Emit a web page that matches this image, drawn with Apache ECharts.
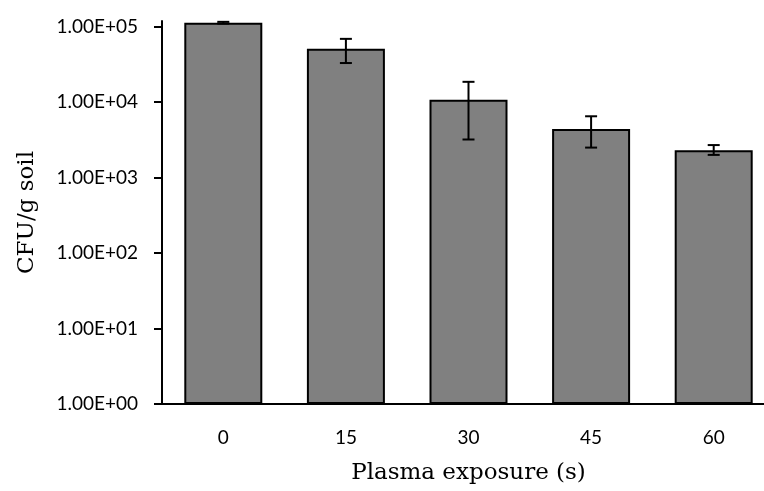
<!DOCTYPE html>
<html>
<head>
<meta charset="utf-8">
<script src="https://cdn.jsdelivr.net/npm/echarts@6/dist/echarts.min.js"></script>
<style>html,body{margin:0;padding:0;background:#fff}#c{width:764px;height:491px}</style>
</head>
<body>
<div id="c"></div>
<script>
const categories = ['0', '15', '30', '45', '60'];
const values = [113000, 51000, 10800, 4400, 2300];
const errLow = [110000, 33000, 3200, 2500, 2000];
const errHigh = [116000, 69000, 18600, 6500, 2700];
const yTicks = [1, 10, 100, 1000, 10000, 100000];

function fmt(v) {
  const e = Math.round(Math.log10(v));
  const m = v / Math.pow(10, e);
  return m.toFixed(2) + 'E+' + (e < 10 ? '0' : '') + e;
}

const chart = echarts.init(document.getElementById('c'), null, {renderer: 'canvas'});
chart.setOption({
  animation: false,
  backgroundColor: '#ffffff',
  grid: {left: 162, right: -11, top: 21, bottom: 87, containLabel: false, outerBoundsMode: 'none'},
  xAxis: {
    type: 'category',
    data: categories,
    axisLine: {lineStyle: {color: '#000', width: 2}},
    axisTick: {show: false},
    axisLabel: {color: '#000', fontSize: 19, fontFamily: 'Lato', margin: 24},
    name: 'Plasma exposure (s)',
    nameLocation: 'middle',
    nameGap: 58,
    nameTextStyle: {color: '#000', fontSize: 23, fontFamily: 'DejaVu Serif'}
  },
  yAxis: {
    type: 'log',
    logBase: 10,
    min: 1,
    max: 119000,
    splitLine: {show: false},
    axisLine: {show: true, lineStyle: {color: '#000', width: 2}},
    axisTick: {show: true, inside: false, length: 8, lineStyle: {color: '#000', width: 2}, customValues: yTicks},
    axisLabel: {color: '#000', fontSize: 19, fontFamily: 'Lato', margin: 24, formatter: fmt, customValues: yTicks},
    name: 'CFU/g soil',
    nameLocation: 'middle',
    nameGap: 123,
    nameRotate: 90,
    nameTextStyle: {color: '#000', fontSize: 23, fontFamily: 'DejaVu Serif'}
  },
  series: [
    {
      type: 'bar',
      data: values,
      barWidth: 78,
      itemStyle: {color: '#808080', borderColor: '#000', borderWidth: 2}
    },
    {
      type: 'custom',
      data: categories.map((c, i) => [i, errLow[i], errHigh[i]]),
      renderItem: function (params, api) {
        const x = api.value(0);
        const lo = api.coord([x, api.value(1)]);
        const hi = api.coord([x, api.value(2)]);
        const hw = 6;
        const style = {stroke: '#000', lineWidth: 2};
        return {
          type: 'group',
          children: [
            {type: 'line', shape: {x1: lo[0], y1: lo[1], x2: hi[0], y2: hi[1]}, style: style},
            {type: 'line', shape: {x1: lo[0] - hw, y1: lo[1], x2: lo[0] + hw, y2: lo[1]}, style: style},
            {type: 'line', shape: {x1: hi[0] - hw, y1: hi[1], x2: hi[0] + hw, y2: hi[1]}, style: style}
          ]
        };
      },
      z: 10
    }
  ]
});
</script>
</body>
</html>
